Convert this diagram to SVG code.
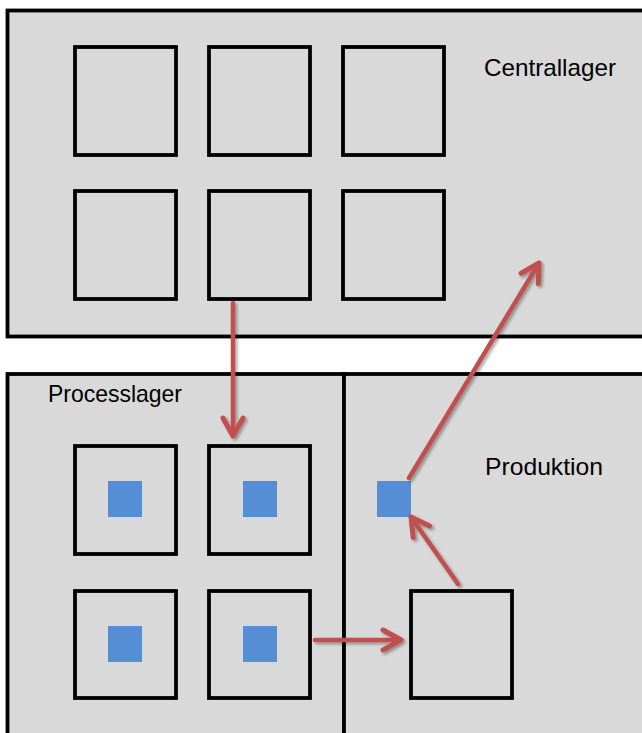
<svg xmlns="http://www.w3.org/2000/svg" width="642" height="733" viewBox="0 0 642 733">
  <style>
    .area { fill: #D9D9D9; stroke: #000; stroke-width: 3.8; }
    .slot { fill: none; stroke: #000; stroke-width: 3.8; }
    .item { fill: #558ED5; }
    .lbl { font-family: "Liberation Sans", Arial, sans-serif; font-size: 24px; fill: #000; }
    .arrow { stroke: #C0504D; stroke-width: 4.5; fill: none; stroke-linecap: round; marker-end: url(#head); filter: url(#shadow); }
  </style>
  <defs>
    <marker id="head" markerUnits="userSpaceOnUse" viewBox="-24 -14 28 28" refX="0" refY="0" markerWidth="28" markerHeight="28" orient="auto">
      <path d="M -18 -10 L 0 0 L -18 10" fill="none" stroke="#C0504D" stroke-width="5" stroke-linecap="round" stroke-linejoin="round"/>
    </marker>
    <filter id="shadow" filterUnits="userSpaceOnUse" x="0" y="0" width="642" height="733">
      <feDropShadow dx="2" dy="2" stdDeviation="1.5" flood-color="#000" flood-opacity="0.35"/>
    </filter>
  </defs>
  <rect width="642" height="733" fill="#FFFFFF"/>

  <g id="centrallager">
    <rect class="area" x="7.5" y="10.5" width="650" height="326"/>
    <text class="lbl" x="484" y="76" textLength="132" lengthAdjust="spacingAndGlyphs">Centrallager</text>
    <rect class="slot" x="75" y="47" width="101" height="108"/>
    <rect class="slot" x="209" y="47" width="101" height="108"/>
    <rect class="slot" x="343" y="47" width="101" height="108"/>
    <rect class="slot" x="75" y="191" width="101" height="108"/>
    <rect class="slot" x="209" y="191" width="101" height="108"/>
    <rect class="slot" x="343" y="191" width="101" height="108"/>
  </g>

  <g id="processlager">
    <rect class="area" x="7.5" y="374" width="336.5" height="380"/>
    <text class="lbl" x="48" y="402" textLength="134" lengthAdjust="spacingAndGlyphs">Processlager</text>
    <rect class="slot" x="75" y="446" width="101" height="108"/>
    <rect class="slot" x="209" y="446" width="101" height="108"/>
    <rect class="slot" x="75" y="591" width="101" height="107"/>
    <rect class="slot" x="209" y="591" width="101" height="107"/>
    <rect class="item" x="108" y="481" width="34" height="36"/>
    <rect class="item" x="243" y="481" width="34" height="36"/>
    <rect class="item" x="108" y="626" width="34" height="36"/>
    <rect class="item" x="243" y="626" width="34" height="36"/>
  </g>

  <g id="produktion">
    <rect class="area" x="344" y="374" width="320" height="380"/>
    <text class="lbl" x="485" y="475" textLength="118" lengthAdjust="spacingAndGlyphs">Produktion</text>
    <rect class="slot" x="411" y="591" width="101" height="107"/>
    <rect class="item" x="377" y="481" width="34" height="36"/>
  </g>

  <g id="connectors">
    <line class="arrow" x1="233" y1="303" x2="233" y2="436"/>
    <line class="arrow" x1="315" y1="640" x2="401" y2="640"/>
    <line class="arrow" x1="458" y1="584" x2="411" y2="517"/>
    <line class="arrow" x1="409" y1="478" x2="539" y2="263"/>
  </g>
</svg>
